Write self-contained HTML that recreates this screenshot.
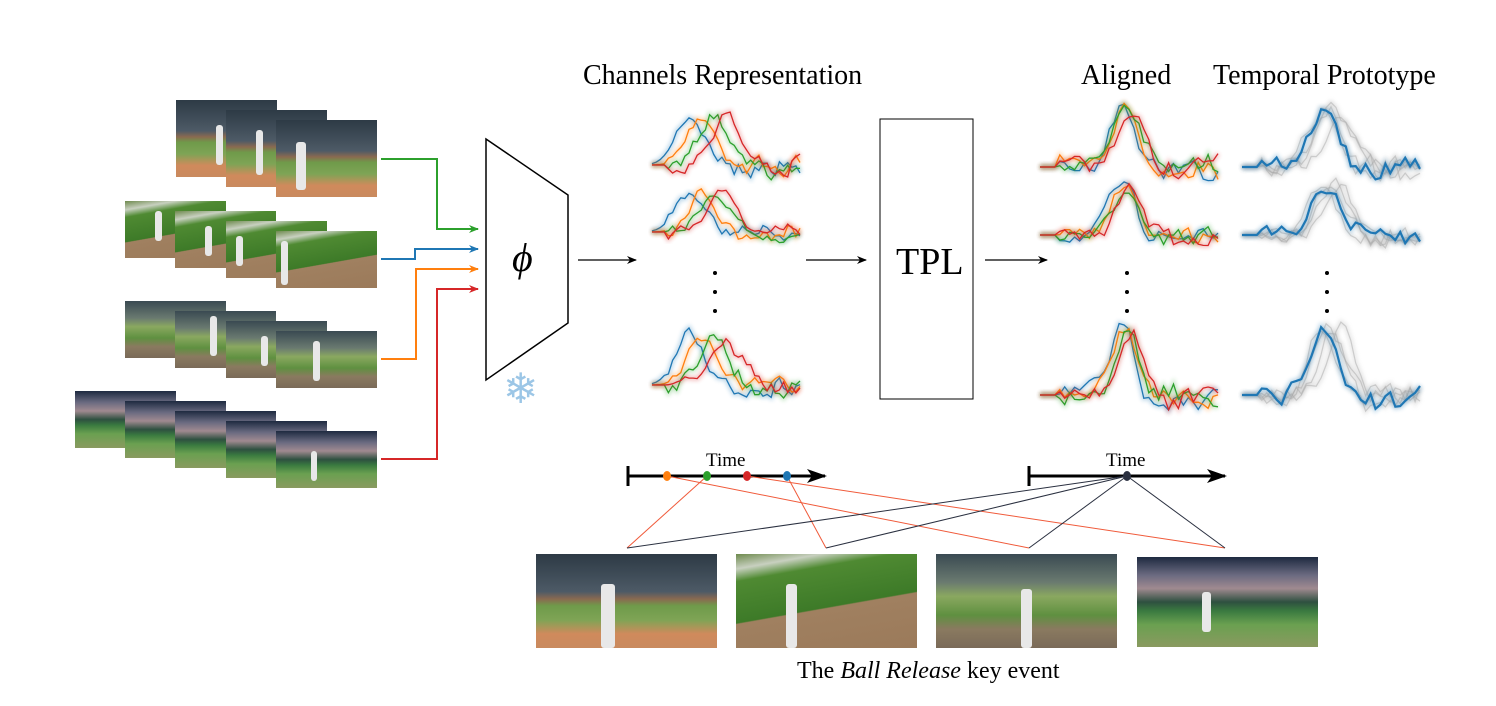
<!DOCTYPE html>
<html><head><meta charset="utf-8"><style>
body{margin:0;background:#fff;width:1496px;height:706px;position:relative;overflow:hidden;font-family:"Liberation Serif",serif}
.f{position:absolute;width:101px;height:57px}
.A{background:linear-gradient(#2d3a45 0%,#4d5a66 40%,#8a6a50 48%,#6f9a4a 55%,#7ea455 70%,#d08a5c 85%,#c98a5e 100%)}
.B{background:linear-gradient(170deg,#6e8a4e 0%,#c8d0c0 12%,#4f8a32 22%,#3d7a28 55%,#a08060 56%,#9b7a5a 100%)}
.C{background:linear-gradient(#3a4a52 0%,#6a7a70 30%,#8aa860 45%,#5f9040 65%,#8a7a60 80%,#7a6a58 100%)}
.D{background:linear-gradient(#1e2a40 0%,#6a6a80 20%,#a08a90 35%,#2e5040 50%,#3a7a40 60%,#6aa050 75%,#8a9a60 100%)}
.p{position:absolute;background:#e8e8e8;width:7px;height:30px;border-radius:3px}
.t{position:absolute;white-space:nowrap}
</style></head><body>
<div class="f A" style="left:176px;top:100px;height:77px"><div class="p" style="left:40px;top:25px;height:40px"></div></div>
<div class="f A" style="left:226px;top:110px;height:77px"><div class="p" style="left:30px;top:20px;height:45px"></div></div>
<div class="f A" style="left:276px;top:120px;height:77px"><div class="p" style="left:20px;top:22px;height:48px;width:10px"></div></div>
<div class="f B" style="left:125px;top:201px"><div class="p" style="left:30px;top:10px"></div></div>
<div class="f B" style="left:175px;top:211px"><div class="p" style="left:30px;top:15px"></div></div>
<div class="f B" style="left:226px;top:221px"><div class="p" style="left:10px;top:15px"></div></div>
<div class="f B" style="left:276px;top:231px"><div class="p" style="left:5px;top:10px;height:44px"></div></div>
<div class="f C" style="left:125px;top:301px"></div>
<div class="f C" style="left:175px;top:311px"><div class="p" style="left:35px;top:5px;height:40px"></div></div>
<div class="f C" style="left:226px;top:321px"><div class="p" style="left:35px;top:15px"></div></div>
<div class="f C" style="left:276px;top:331px"><div class="p" style="left:37px;top:10px;height:40px"></div></div>
<div class="f D" style="left:75px;top:391px"></div>
<div class="f D" style="left:125px;top:401px"></div>
<div class="f D" style="left:175px;top:411px"></div>
<div class="f D" style="left:226px;top:421px"></div>
<div class="f D" style="left:276px;top:431px"><div class="p" style="left:35px;top:20px;width:6px"></div></div>
<div class="f A" style="left:536px;top:554px;width:181px;height:94px"><div class="p" style="left:65px;top:30px;width:14px;height:64px"></div></div>
<div class="f B" style="left:736px;top:554px;width:181px;height:94px"><div class="p" style="left:50px;top:30px;width:11px;height:64px"></div></div>
<div class="f C" style="left:936px;top:554px;width:181px;height:94px"><div class="p" style="left:85px;top:35px;width:11px;height:59px"></div></div>
<div class="f D" style="left:1137px;top:557px;width:181px;height:90px"><div class="p" style="left:65px;top:35px;width:9px;height:40px"></div></div>

<svg id="s" width="1496" height="706" style="position:absolute;left:0;top:0">
<defs>
<marker id="ag" markerWidth="10" markerHeight="8" refX="9" refY="4" orient="auto" markerUnits="userSpaceOnUse"><path d="M0,0L10,4L0,8L3,4Z" fill="#2ca02c"/></marker>
<marker id="ab" markerWidth="10" markerHeight="8" refX="9" refY="4" orient="auto" markerUnits="userSpaceOnUse"><path d="M0,0L10,4L0,8L3,4Z" fill="#1f77b4"/></marker>
<marker id="ao" markerWidth="10" markerHeight="8" refX="9" refY="4" orient="auto" markerUnits="userSpaceOnUse"><path d="M0,0L10,4L0,8L3,4Z" fill="#ff7f0e"/></marker>
<marker id="ar" markerWidth="10" markerHeight="8" refX="9" refY="4" orient="auto" markerUnits="userSpaceOnUse"><path d="M0,0L10,4L0,8L3,4Z" fill="#d62728"/></marker>
<marker id="ak" markerWidth="10" markerHeight="8" refX="9" refY="4" orient="auto" markerUnits="userSpaceOnUse"><path d="M0,0L10,4L0,8L3,4Z" fill="#000"/></marker>
<marker id="ak2" markerWidth="20" markerHeight="14" refX="18" refY="7" orient="auto" markerUnits="userSpaceOnUse"><path d="M0,0L20,7L0,14L5,7Z" fill="#000"/></marker>
<filter id="bl"><feGaussianBlur stdDeviation="2"/></filter>
</defs>
<g fill="none" stroke-width="2">
<polyline points="381,159 437,159 437,229 478,229" stroke="#2ca02c" marker-end="url(#ag)"/>
<polyline points="381,259 415,259 415,249 478,249" stroke="#1f77b4" marker-end="url(#ab)"/>
<polyline points="381,359 416,359 416,269 478,269" stroke="#ff7f0e" marker-end="url(#ao)"/>
<polyline points="381,459 437,459 437,289 478,289" stroke="#d62728" marker-end="url(#ar)"/>
</g>
<polygon points="486,139 568,195 568,323 486,380" fill="#fff" stroke="#000" stroke-width="1.5"/>
<g stroke="#000" stroke-width="1.2">
<line x1="578" y1="260" x2="636" y2="260" marker-end="url(#ak)"/>
<line x1="806" y1="260" x2="866" y2="260" marker-end="url(#ak)"/>
<line x1="985" y1="260" x2="1047" y2="260" marker-end="url(#ak)"/>
</g>
<rect x="880" y="119" width="93" height="280" fill="none" stroke="#000" stroke-width="1"/>
<g fill="#000">
<circle cx="715" cy="273" r="2"/><circle cx="715" cy="292" r="2"/><circle cx="715" cy="311" r="2"/>
<circle cx="1127" cy="273" r="2"/><circle cx="1127" cy="292" r="2"/><circle cx="1127" cy="311" r="2"/>
<circle cx="1327" cy="273" r="2"/><circle cx="1327" cy="292" r="2"/><circle cx="1327" cy="311" r="2"/>
</g>
<g id="curves"></g>
<g stroke="#000" stroke-width="3">
<line x1="628" y1="476" x2="825" y2="476" marker-end="url(#ak2)"/><line x1="628" y1="466" x2="628" y2="486"/>
<line x1="1029" y1="476" x2="1225" y2="476" marker-end="url(#ak2)"/><line x1="1029" y1="466" x2="1029" y2="486"/>
</g>
<g stroke="#f05a3a" stroke-width="1">
<line x1="707" y1="476" x2="627" y2="548"/><line x1="667" y1="476" x2="1029" y2="548"/>
<line x1="747" y1="476" x2="1225" y2="548"/><line x1="787" y1="476" x2="826" y2="548"/>
</g>
<g stroke="#2a3040" stroke-width="1">
<line x1="1127" y1="476" x2="627" y2="548"/><line x1="1127" y1="476" x2="826" y2="548"/>
<line x1="1127" y1="476" x2="1029" y2="548"/><line x1="1127" y1="476" x2="1225" y2="548"/>
</g>
<ellipse cx="667" cy="476" rx="4" ry="5" fill="#ff7f0e"/><ellipse cx="707" cy="476" rx="4" ry="5" fill="#2ca02c"/>
<ellipse cx="747" cy="476" rx="4" ry="5" fill="#d62728"/><ellipse cx="787" cy="476" rx="4" ry="5" fill="#1f77b4"/>
<ellipse cx="1127" cy="476" rx="4" ry="5" fill="#2a3040"/>
</svg>
<div class="t" style="left:583px;top:60px;font-size:28px">Channels Representation</div>
<div class="t" style="left:1081px;top:60px;font-size:28px">Aligned</div>
<div class="t" style="left:1213px;top:60px;font-size:28px">Temporal Prototype</div>
<div class="t" style="left:512px;top:234px;font-size:40px;font-style:italic">ϕ</div>
<div class="t" style="left:503px;top:364px;font-size:42px;color:#9cc6e6;font-family:'DejaVu Sans',sans-serif">❄</div>
<div class="t" style="left:896px;top:240px;font-size:38px">TPL</div>
<div class="t" style="left:706px;top:450px;font-size:19px">Time</div>
<div class="t" style="left:1106px;top:450px;font-size:19px">Time</div>
<div class="t" style="left:797px;top:658px;font-size:24px">The <i>Ball Release</i> key event</div>
<script>
var seed=7;function r(){seed=(seed*16807)%2147483647;return seed/2147483647;}
var g=document.getElementById('curves'),NS="http://www.w3.org/2000/svg";
function curve(x0,x1,base,amp,c,w,col,sw,blur,op){var n=36,pts=[];var nz=0;
for(var i=0;i<=n;i++){var x=x0+(x1-x0)*i/n;nz=nz*0.5+(r()-0.5)*amp*0.25;var t=i<4?0:nz;var gv=Math.exp(-Math.pow((x-c)/w,2));
var yy=base-amp*gv+t+(i>n*0.55?(r()-0.3)*amp*0.18:0);pts.push(x.toFixed(1)+","+yy.toFixed(1));}
var s=pts.join(" ");
if(blur){var b=document.createElementNS(NS,"polyline");b.setAttribute("points",s);b.setAttribute("fill","none");b.setAttribute("stroke",col);b.setAttribute("stroke-width",sw+3);b.setAttribute("opacity",0.3);b.setAttribute("filter","url(#bl)");g.appendChild(b);}
var p=document.createElementNS(NS,"polyline");p.setAttribute("points",s);p.setAttribute("fill","none");p.setAttribute("stroke",col);p.setAttribute("stroke-width",sw);if(op)p.setAttribute("opacity",op);g.appendChild(p);}
var cols=["#1f77b4","#ff7f0e","#2ca02c","#d62728"];
var rowsL=[[165,50],[232,40],[385,50]];
rowsL.forEach(function(rw){cols.forEach(function(c,k){curve(652,800,rw[0],rw[1],690+k*12,20,c,1.3,true);});});
var rowsA=[[167,60],[235,50],[395,65]];
rowsA.forEach(function(rw){cols.forEach(function(c,k){curve(1040,1218,rw[0],rw[1],1122+k*3,18,c,1.3,true);});});
rowsA.forEach(function(rw){for(var k=0;k<4;k++)curve(1242,1420,rw[0],rw[1],1322+k*6,20,"#aaa",1.2,true,0.5);curve(1242,1420,rw[0],rw[1],1325,20,"#1f77b4",2.2,true);});
</script>
</body></html>
